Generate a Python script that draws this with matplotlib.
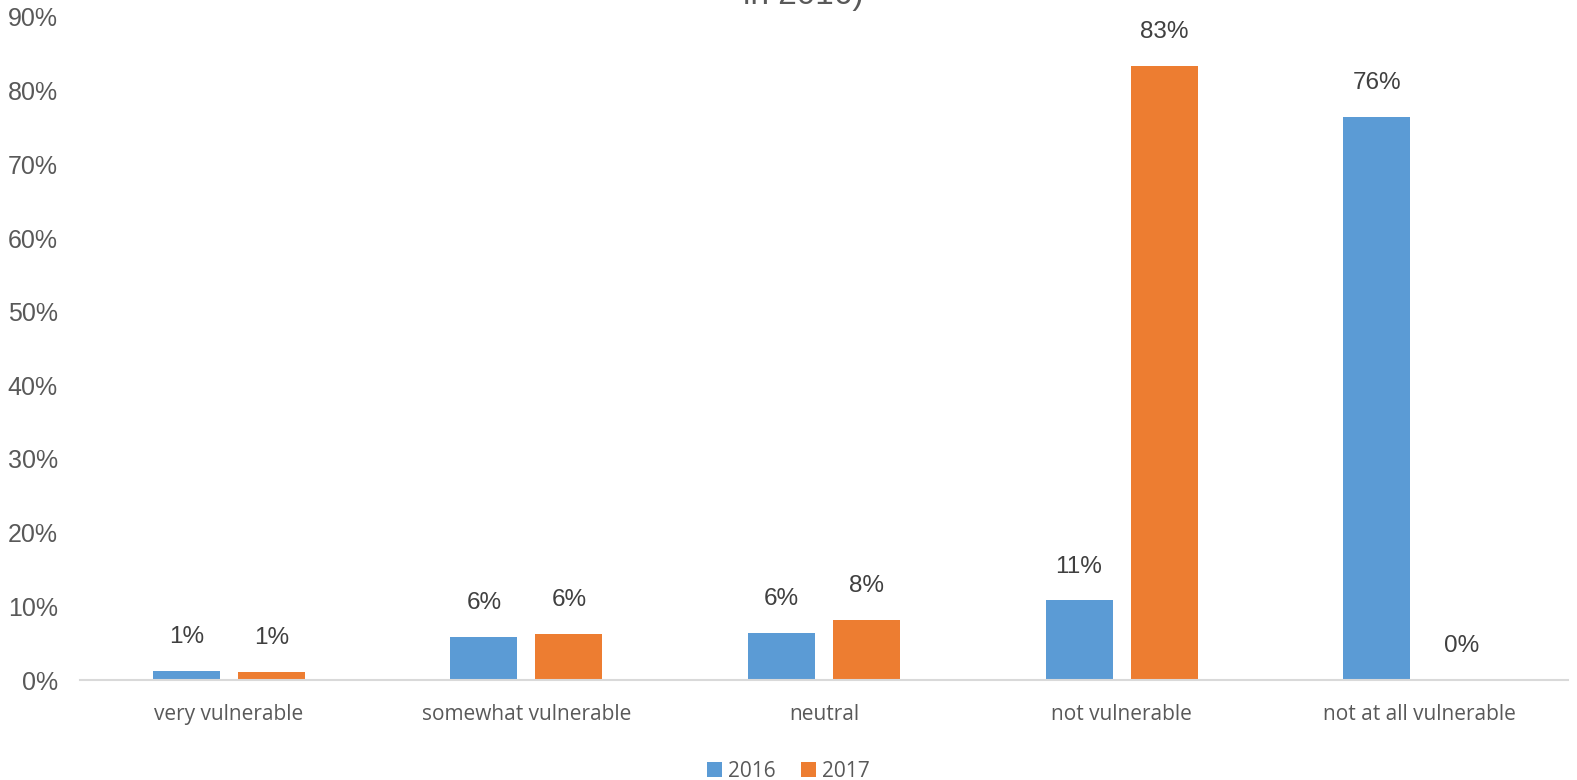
import numpy as np
import matplotlib.pyplot as plt

# Share of respondents per vulnerability rating
categories = ['very vulnerable', 'somewhat vulnerable', 'neutral',
              'not vulnerable', 'not at all vulnerable']
years = ['2016', '2017']
values_2016 = [1.2, 5.9, 6.4, 10.8, 76.4]
values_2017 = [1.1, 6.2, 8.1, 83.4, 0.0]

colors = ['#5b9bd5', '#ed7d31']
grey = '#595959'

fig = plt.figure(figsize=(15.77, 7.80), dpi=100)
ax = fig.add_axes([80 / 1577, 1 - 680 / 780, 1488 / 1577, 663 / 780])

x = np.arange(len(categories))
width = 0.225
offset = 0.143

for vals, year, color, sign in zip([values_2016, values_2017], years, colors, [-1, 1]):
    bars = ax.bar(x + sign * offset, vals, width, color=color, label=year)
    for b, v in zip(bars, vals):
        ax.text(b.get_x() + b.get_width() / 2, v + 3.1, f'{v:.0f}%',
                ha='center', va='bottom', fontsize=17.5,
                family='Liberation Sans', color='#404040')

ax.set_xlim(-0.5, len(categories) - 0.5)
ax.set_ylim(0, 90)
ax.set_yticks(np.arange(0, 91, 10))
ax.set_yticklabels([f'{t}%' for t in range(0, 91, 10)],
                   family='Liberation Sans', fontsize=18, color=grey)
ax.set_xticks(x)
ax.set_xticklabels(categories, family='Open Sans', fontsize=15, color=grey)
ax.tick_params(axis='both', length=0)
ax.tick_params(axis='x', pad=17)
ax.tick_params(axis='y', pad=16)

for side in ['top', 'right', 'left']:
    ax.spines[side].set_visible(False)
ax.spines['bottom'].set_color('#d9d9d9')
ax.spines['bottom'].set_linewidth(1.5)

# title runs off the top edge of the canvas
fig.text(803 / 1577, 1 - 4 / 780, 'in 2016)', ha='center', va='baseline',
         fontsize=24, family='Liberation Sans', color=grey)

fig.legend(loc='lower center', bbox_to_anchor=(0.5, -0.026), ncol=2, frameon=False,
           handlelength=0.7, handleheight=0.7, handletextpad=0.3, columnspacing=1.2,
           prop={'family': 'Open Sans', 'size': 15}, labelcolor=grey)

fig.savefig('out.png', dpi=100)
